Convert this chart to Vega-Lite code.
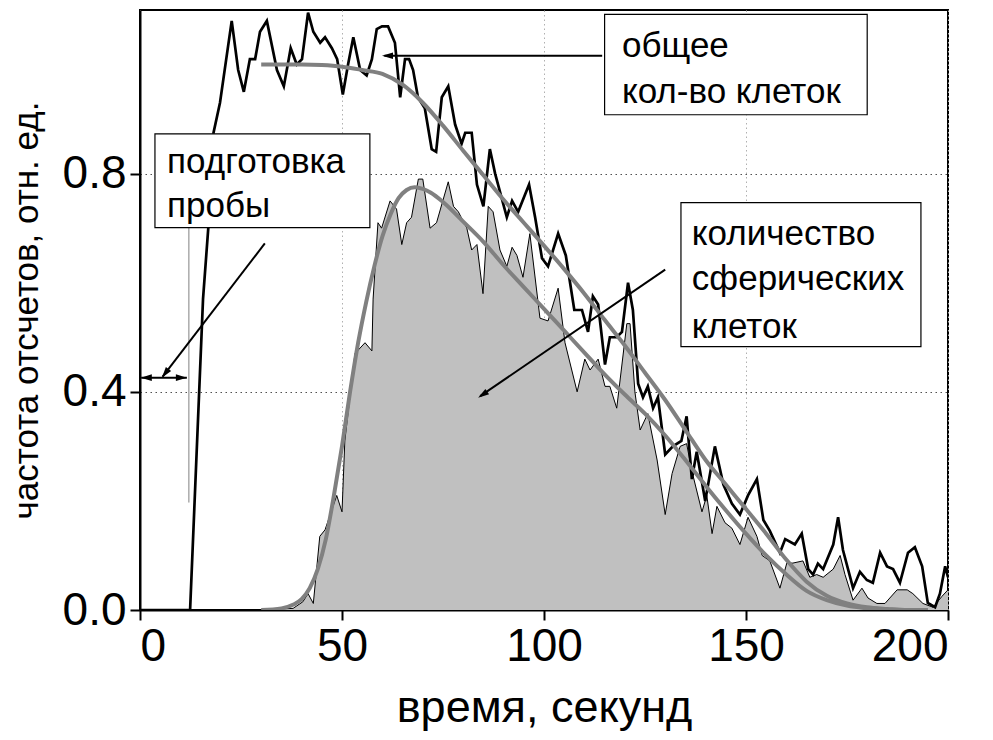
{
  "$schema": "https://vega.github.io/schema/vega-lite/v6.json",
  "width": 808,
  "height": 600,
  "autosize": "none",
  "padding": {"left": 140, "top": 10, "right": 45, "bottom": 130},
  "background": "white",
  "config": {
    "font": "Liberation Sans",
    "view": {"stroke": "black", "strokeWidth": 2},
    "axis": {
      "domainColor": "black", "domainWidth": 2, "tickColor": "black", "tickWidth": 2, "tickSize": 10,
      "labelColor": "black", "titleColor": "black", "labelFont": "Liberation Sans", "titleFont": "Liberation Sans",
      "titleFontWeight": "normal"
    }
  },
  "datasets": {
    "total": [
      {"t":0,"v":0},{"t":12.4,"v":0},{"t":15.6,"v":0.57},{"t":16.9,"v":0.70},{"t":18.2,"v":0.875},{"t":19.8,"v":0.93},
      {"t":22.7,"v":1.08},{"t":24.3,"v":0.99},{"t":25.7,"v":0.95},{"t":27.2,"v":1.01},{"t":28.5,"v":1.01},{"t":29.7,"v":1.06},
      {"t":31.4,"v":1.08},{"t":33.9,"v":0.99},{"t":35.6,"v":0.96},{"t":37.3,"v":1.03},{"t":38.8,"v":1.0},{"t":40.1,"v":1.01},
      {"t":41.6,"v":1.095},{"t":42.9,"v":1.06},{"t":44.6,"v":1.04},{"t":45.8,"v":1.05},{"t":47.5,"v":1.03},{"t":48.8,"v":1.01},
      {"t":50.2,"v":0.945},{"t":51.5,"v":1.0},{"t":52.8,"v":1.05},{"t":54.5,"v":0.99},{"t":56.1,"v":0.98},{"t":57.4,"v":1.01},
      {"t":58.6,"v":1.065},{"t":59.9,"v":1.07},{"t":61.4,"v":1.07},{"t":63.1,"v":1.04},{"t":64.4,"v":0.94},{"t":65.6,"v":1.01},
      {"t":66.6,"v":1.01},{"t":67.6,"v":0.99},{"t":68.8,"v":0.94},{"t":70.5,"v":0.92},{"t":72.2,"v":0.845},{"t":73.3,"v":0.84},
      {"t":74.7,"v":0.94},{"t":76.3,"v":0.96},{"t":78,"v":0.89},{"t":79.6,"v":0.855},{"t":80.5,"v":0.875},{"t":82.1,"v":0.875},
      {"t":83.4,"v":0.78},{"t":85,"v":0.74},{"t":86.6,"v":0.845},{"t":87.9,"v":0.80},{"t":90.8,"v":0.72},{"t":92.1,"v":0.75},
      {"t":93.6,"v":0.73},{"t":96.3,"v":0.78},{"t":97.8,"v":0.72},{"t":99.5,"v":0.645},{"t":101,"v":0.63},{"t":103.5,"v":0.69},
      {"t":105.4,"v":0.65},{"t":107.5,"v":0.55},{"t":109.4,"v":0.55},{"t":110.9,"v":0.51},{"t":112.1,"v":0.575},{"t":113.4,"v":0.56},
      {"t":115.1,"v":0.45},{"t":116.3,"v":0.50},{"t":118,"v":0.50},{"t":119.3,"v":0.51},{"t":120.8,"v":0.60},{"t":122,"v":0.55},
      {"t":123.3,"v":0.415},{"t":124.5,"v":0.39},{"t":125.7,"v":0.41},{"t":127,"v":0.37},{"t":128.2,"v":0.39},{"t":130,"v":0.285},
      {"t":131.9,"v":0.30},{"t":134,"v":0.31},{"t":135.3,"v":0.355},{"t":136.6,"v":0.24},{"t":137.8,"v":0.29},{"t":139.9,"v":0.20},
      {"t":142.3,"v":0.30},{"t":144.4,"v":0.23},{"t":146.5,"v":0.195},{"t":148.5,"v":0.175},{"t":150.5,"v":0.21},{"t":152.7,"v":0.24},
      {"t":154.3,"v":0.165},{"t":155.9,"v":0.145},{"t":158.4,"v":0.105},{"t":159.7,"v":0.13},{"t":162.1,"v":0.12},{"t":163.8,"v":0.14},
      {"t":165.4,"v":0.075},{"t":166.6,"v":0.065},{"t":167.8,"v":0.085},{"t":169.1,"v":0.075},{"t":171.6,"v":0.12},{"t":172.8,"v":0.17},
      {"t":174,"v":0.11},{"t":176.5,"v":0.04},{"t":178.2,"v":0.07},{"t":179.9,"v":0.055},{"t":181.4,"v":0.05},{"t":183.2,"v":0.105},
      {"t":184.9,"v":0.08},{"t":186.4,"v":0.075},{"t":188.1,"v":0.05},{"t":190.1,"v":0.105},{"t":191.8,"v":0.115},{"t":193.6,"v":0.08},
      {"t":195,"v":0.013},{"t":196.8,"v":0.005},{"t":198,"v":0.03},{"t":199.3,"v":0.08},{"t":200,"v":0.06}
    ],
    "spher": [
      {"t":0,"v":0},{"t":33,"v":0},{"t":35,"v":0.002},{"t":37.9,"v":0.003},{"t":40.3,"v":0.015},{"t":41.6,"v":0.03},
      {"t":42.9,"v":0.012},{"t":44.5,"v":0.135},{"t":45.8,"v":0.147},{"t":48.7,"v":0.21},{"t":50,"v":0.18},{"t":50.7,"v":0.31},
      {"t":53.2,"v":0.47},{"t":55.7,"v":0.49},{"t":57.4,"v":0.475},{"t":57.7,"v":0.57},{"t":58.9,"v":0.71},{"t":59.8,"v":0.70},
      {"t":61.9,"v":0.75},{"t":63.5,"v":0.735},{"t":64.8,"v":0.67},{"t":66,"v":0.71},{"t":67.2,"v":0.72},{"t":68.9,"v":0.79},
      {"t":70,"v":0.79},{"t":71.8,"v":0.70},{"t":73.4,"v":0.71},{"t":76.3,"v":0.785},{"t":77.6,"v":0.74},{"t":78.8,"v":0.73},
      {"t":80.9,"v":0.70},{"t":82.1,"v":0.66},{"t":83.4,"v":0.67},{"t":84.9,"v":0.58},{"t":86.2,"v":0.74},{"t":87.4,"v":0.73},
      {"t":89.1,"v":0.66},{"t":90.8,"v":0.63},{"t":92.1,"v":0.665},{"t":93.3,"v":0.65},{"t":94.8,"v":0.61},{"t":96.5,"v":0.69},
      {"t":99,"v":0.535},{"t":101,"v":0.53},{"t":103.5,"v":0.59},{"t":105.2,"v":0.49},{"t":108.2,"v":0.40},{"t":110.1,"v":0.46},
      {"t":111.4,"v":0.44},{"t":113.4,"v":0.46},{"t":115.1,"v":0.41},{"t":116.3,"v":0.41},{"t":118,"v":0.37},{"t":120.5,"v":0.525},
      {"t":121.3,"v":0.525},{"t":122.5,"v":0.40},{"t":123.8,"v":0.33},{"t":125.7,"v":0.36},{"t":128,"v":0.275},{"t":130,"v":0.175},
      {"t":131.7,"v":0.25},{"t":133.7,"v":0.30},{"t":135.3,"v":0.305},{"t":136.6,"v":0.255},{"t":139.1,"v":0.18},{"t":140.3,"v":0.21},
      {"t":141.6,"v":0.14},{"t":142.8,"v":0.19},{"t":144.8,"v":0.16},{"t":146.5,"v":0.15},{"t":148.5,"v":0.12},{"t":150.5,"v":0.17},
      {"t":152.7,"v":0.135},{"t":154,"v":0.10},{"t":155.9,"v":0.09},{"t":158.4,"v":0.04},{"t":160.1,"v":0.086},{"t":161.6,"v":0.086},
      {"t":164.1,"v":0.09},{"t":165.8,"v":0.06},{"t":167.5,"v":0.065},{"t":169.1,"v":0.06},{"t":171.6,"v":0.075},{"t":173.3,"v":0.10},
      {"t":174.5,"v":0.065},{"t":176.5,"v":0.018},{"t":178.7,"v":0.04},{"t":180.2,"v":0.022},{"t":182.4,"v":0.012},{"t":184.4,"v":0.012},
      {"t":187.4,"v":0.037},{"t":189.9,"v":0.037},{"t":191.3,"v":0.03},{"t":193.8,"v":0.012},{"t":196.3,"v":0.005},{"t":198.5,"v":0.025},
      {"t":200,"v":0.037}
    ],
    "fits": [
      {"s":"total","t":30,"v":1.0},{"s":"total","t":35,"v":1.0},{"s":"total","t":40,"v":1.0},{"s":"total","t":45,"v":0.999},
      {"s":"total","t":50,"v":0.996},{"s":"total","t":55,"v":0.99},{"s":"total","t":60,"v":0.983},{"s":"total","t":65,"v":0.963},
      {"s":"total","t":70,"v":0.93},{"s":"total","t":75,"v":0.888},{"s":"total","t":80,"v":0.842},{"s":"total","t":85,"v":0.797},
      {"s":"total","t":90,"v":0.752},{"s":"total","t":95,"v":0.71},{"s":"total","t":100,"v":0.668},{"s":"total","t":105,"v":0.625},
      {"s":"total","t":110,"v":0.58},{"s":"total","t":115,"v":0.532},{"s":"total","t":120,"v":0.485},{"s":"total","t":125,"v":0.435},
      {"s":"total","t":130,"v":0.385},{"s":"total","t":135,"v":0.33},{"s":"total","t":140,"v":0.275},{"s":"total","t":145,"v":0.23},
      {"s":"total","t":150,"v":0.185},{"s":"total","t":155,"v":0.14},{"s":"total","t":160,"v":0.092},{"s":"total","t":165,"v":0.052},
      {"s":"total","t":170,"v":0.026},{"s":"total","t":175,"v":0.012},{"s":"total","t":180,"v":0.005},{"s":"total","t":185,"v":0.002},
      {"s":"total","t":190,"v":0.0},{"s":"total","t":195,"v":0.0},
      {"s":"spher","t":30,"v":0},{"s":"spher","t":35,"v":0.003},{"s":"spher","t":38,"v":0.01},{"s":"spher","t":40,"v":0.02},
      {"s":"spher","t":42,"v":0.04},{"s":"spher","t":44,"v":0.075},{"s":"spher","t":46,"v":0.13},{"s":"spher","t":48,"v":0.21},
      {"s":"spher","t":50,"v":0.30},{"s":"spher","t":52,"v":0.40},{"s":"spher","t":54,"v":0.49},{"s":"spher","t":56,"v":0.565},
      {"s":"spher","t":58,"v":0.63},{"s":"spher","t":60,"v":0.685},{"s":"spher","t":62,"v":0.725},{"s":"spher","t":64,"v":0.755},
      {"s":"spher","t":66,"v":0.77},{"s":"spher","t":68,"v":0.775},{"s":"spher","t":70,"v":0.772},{"s":"spher","t":72,"v":0.765},
      {"s":"spher","t":75,"v":0.748},{"s":"spher","t":80,"v":0.712},{"s":"spher","t":85,"v":0.675},{"s":"spher","t":90,"v":0.632},
      {"s":"spher","t":95,"v":0.592},{"s":"spher","t":100,"v":0.552},{"s":"spher","t":105,"v":0.512},{"s":"spher","t":110,"v":0.472},
      {"s":"spher","t":115,"v":0.432},{"s":"spher","t":120,"v":0.395},{"s":"spher","t":125,"v":0.36},{"s":"spher","t":130,"v":0.32},
      {"s":"spher","t":135,"v":0.275},{"s":"spher","t":140,"v":0.228},{"s":"spher","t":145,"v":0.183},{"s":"spher","t":150,"v":0.14},
      {"s":"spher","t":155,"v":0.1},{"s":"spher","t":160,"v":0.065},{"s":"spher","t":165,"v":0.035},{"s":"spher","t":170,"v":0.018},
      {"s":"spher","t":175,"v":0.008},{"s":"spher","t":180,"v":0.003},{"s":"spher","t":185,"v":0.001},{"s":"spher","t":190,"v":0},
      {"s":"spher","t":195,"v":0}
    ],
    "arrows": [
      {"x1":0.3,"y1":0.426,"x2":11.6,"y2":0.426},
      {"x1":30.9,"y1":0.672,"x2":5.6,"y2":0.428},
      {"x1":114.4,"y1":1.016,"x2":60.5,"y2":1.016},
      {"x1":130,"y1":0.624,"x2":84.2,"y2":0.392}
    ],
    "thin": [{"x1":12.1,"y1":0.197,"x2":12.1,"y2":0.701}],
    "heads": [
      {"t":0.2,"v":0.426,"angle":270},
      {"t":11.6,"v":0.426,"angle":90},
      {"t":5.4,"v":0.426,"angle":217.5},
      {"t":59.9,"v":1.016,"angle":270},
      {"t":83.7,"v":0.389,"angle":235.6}
    ],
    "boxes": [
      {"x1":3.7,"x2":56.9,"y1":0.873,"y2":0.701},
      {"x1":115.0,"x2":180.0,"y1":1.092,"y2":0.908},
      {"x1":133.9,"x2":193.3,"y1":0.747,"y2":0.483}
    ],
    "labels": [
      {"t":6.7,"v":0.802,"text":"подготовка"},
      {"t":6.7,"v":0.721,"text":"пробы"},
      {"t":119.3,"v":1.013,"text":"общее"},
      {"t":119.3,"v":0.930,"text":"кол-во клеток"},
      {"t":136.6,"v":0.67,"text":"количество"},
      {"t":136.6,"v":0.587,"text":"сферических"},
      {"t":136.6,"v":0.499,"text":"клеток"}
    ]
  },
  "layer": [
    {
      "data": {"name": "spher"},
      "mark": {"type": "area", "color": "#c0c0c0", "clip": true},
      "encoding": {
        "x": {"field": "t", "type": "quantitative", "scale": {"domain": [0, 200], "nice": false},
          "axis": {"values": [0, 50, 100, 150, 200], "title": "время, секунд", "labelFontSize": 46, "titleFontSize": 45,
            "labelPadding": 4, "titlePadding": 16, "grid": true, "gridColor": "#b0b0b0", "gridDash": [1.5, 3], "gridWidth": 1}},
        "y": {"field": "v", "type": "quantitative", "scale": {"domain": [0, 1.1], "nice": false, "zero": true},
          "axis": {"values": [0, 0.4, 0.8], "format": ".1f", "title": "частота отсчетов, отн. ед.", "labelFontSize": 46,
            "titleFontSize": 35, "labelPadding": 4, "titlePadding": 18, "grid": true, "gridColor": "#505050", "gridDash": [1.5, 3.5], "gridWidth": 1}}
      }
    },
    {
      "data": {"name": "spher"},
      "mark": {"type": "line", "color": "black", "strokeWidth": 1, "clip": true},
      "encoding": {"x": {"field": "t", "type": "quantitative"}, "y": {"field": "v", "type": "quantitative"}}
    },
    {
      "data": {"name": "total"},
      "mark": {"type": "line", "color": "black", "strokeWidth": 2.7, "strokeJoin": "miter", "clip": true},
      "encoding": {"x": {"field": "t", "type": "quantitative"}, "y": {"field": "v", "type": "quantitative"}}
    },
    {
      "data": {"name": "fits"},
      "mark": {"type": "line", "color": "#808080", "strokeWidth": 4, "interpolate": "monotone", "clip": true},
      "encoding": {"x": {"field": "t", "type": "quantitative"}, "y": {"field": "v", "type": "quantitative"}, "detail": {"field": "s"}}
    },
    {
      "data": {"name": "thin"},
      "mark": {"type": "rule", "color": "#808080", "strokeWidth": 1},
      "encoding": {"x": {"field": "x1", "type": "quantitative"}, "y": {"field": "y1", "type": "quantitative"}, "y2": {"field": "y2"}}
    },
    {
      "data": {"name": "arrows"},
      "mark": {"type": "rule", "color": "black", "strokeWidth": 2},
      "encoding": {"x": {"field": "x1", "type": "quantitative"}, "y": {"field": "y1", "type": "quantitative"}, "x2": {"field": "x2"}, "y2": {"field": "y2"}}
    },
    {
      "data": {"name": "boxes"},
      "mark": {"type": "rect", "fill": "white", "stroke": "black", "strokeWidth": 1.2},
      "encoding": {"x": {"field": "x1", "type": "quantitative"}, "x2": {"field": "x2"}, "y": {"field": "y1", "type": "quantitative"}, "y2": {"field": "y2"}}
    },
    {
      "data": {"name": "labels"},
      "mark": {"type": "text", "align": "left", "baseline": "alphabetic", "fontSize": 35, "font": "Liberation Sans", "color": "black"},
      "encoding": {"x": {"field": "t", "type": "quantitative"}, "y": {"field": "v", "type": "quantitative"}, "text": {"field": "text"}}
    },
    {
      "data": {"name": "heads"},
      "mark": {"type": "point", "shape": "M0,0L0.3,1L-0.3,1Z", "filled": true, "color": "black", "opacity": 1, "size": 484, "strokeWidth": 0},
      "encoding": {"x": {"field": "t", "type": "quantitative"}, "y": {"field": "v", "type": "quantitative"},
        "angle": {"field": "angle", "type": "quantitative", "scale": null}}
    }
  ]
}
